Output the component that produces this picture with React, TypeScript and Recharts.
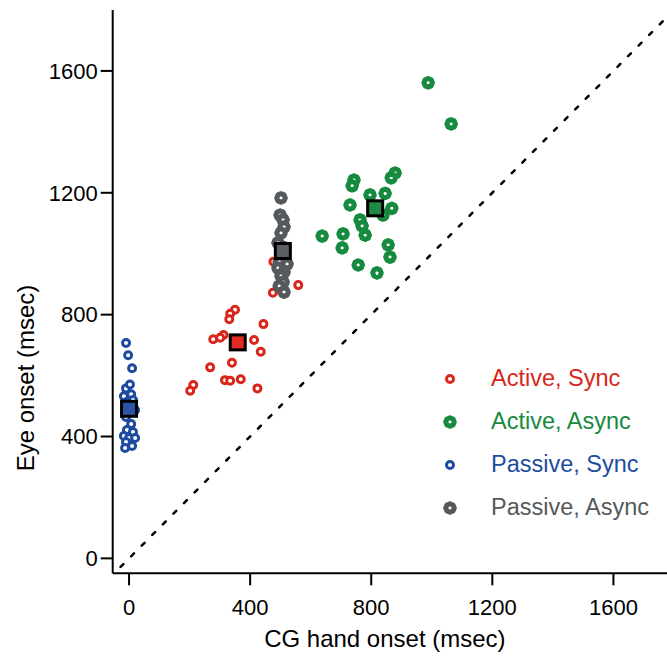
import React from 'react';
import {
  ScatterChart,
  Scatter,
  XAxis,
  YAxis,
  ReferenceLine,
  Legend,
} from 'recharts';

// Onset times (msec)
const activeSync = [
  { x: 350, y: 816 }, { x: 334, y: 803 }, { x: 331, y: 785 }, { x: 444, y: 769 },
  { x: 312, y: 733 }, { x: 301, y: 724 }, { x: 278, y: 719 }, { x: 413, y: 717 },
  { x: 435, y: 678 }, { x: 340, y: 642 }, { x: 268, y: 627 }, { x: 317, y: 585 },
  { x: 334, y: 583 }, { x: 369, y: 588 }, { x: 212, y: 569 }, { x: 202, y: 550 },
  { x: 424, y: 558 }, { x: 477, y: 974 }, { x: 559, y: 897 }, { x: 475, y: 872 },
];

const activeAsync = [
  { x: 988, y: 1561 }, { x: 1064, y: 1426 }, { x: 879, y: 1265 }, { x: 866, y: 1249 },
  { x: 743, y: 1242 }, { x: 737, y: 1223 }, { x: 796, y: 1193 }, { x: 846, y: 1198 },
  { x: 730, y: 1160 }, { x: 868, y: 1149 }, { x: 839, y: 1127 }, { x: 763, y: 1111 },
  { x: 770, y: 1091 }, { x: 780, y: 1061 }, { x: 638, y: 1058 }, { x: 707, y: 1065 },
  { x: 704, y: 1019 }, { x: 856, y: 1029 }, { x: 862, y: 989 }, { x: 757, y: 963 },
  { x: 819, y: 937 },
];

const passiveSync = [
  { x: -10, y: 707 }, { x: -3, y: 667 }, { x: 10, y: 624 }, { x: -10, y: 558 },
  { x: 3, y: 571 }, { x: -17, y: 532 }, { x: 7, y: 539 }, { x: -7, y: 513 },
  { x: 13, y: 520 }, { x: 20, y: 487 }, { x: -10, y: 464 }, { x: 7, y: 441 },
  { x: -7, y: 421 }, { x: 13, y: 415 }, { x: -17, y: 402 }, { x: 0, y: 395 },
  { x: 20, y: 395 }, { x: -10, y: 382 }, { x: 10, y: 369 }, { x: -13, y: 362 },
];

const passiveAsync = [
  { x: 502, y: 1183 }, { x: 499, y: 1127 }, { x: 509, y: 1111 }, { x: 512, y: 1088 },
  { x: 502, y: 1068 }, { x: 492, y: 1036 }, { x: 515, y: 1019 }, { x: 505, y: 993 },
  { x: 496, y: 973 }, { x: 522, y: 966 }, { x: 492, y: 953 }, { x: 512, y: 940 },
  { x: 502, y: 927 }, { x: 509, y: 907 }, { x: 496, y: 894 }, { x: 512, y: 874 },
];

// group means (big squares)
const meanActiveSync = [{ x: 359, y: 709 }];
const meanActiveAsync = [{ x: 813, y: 1149 }];
const meanPassiveSync = [{ x: 0, y: 491 }];
const meanPassiveAsync = [{ x: 508, y: 1009 }];

const xTicks = [0, 400, 800, 1200, 1600];
const yTicks = [0, 400, 800, 1200, 1600];
const unityLine = [{ x: -28, y: -28 }, { x: 1800, y: 1800 }];

const RED = '#d9261c';
const GREEN = '#168a3e';
const BLUE = '#1e4ba0';
const GRAY = '#55595c';

const FONT = '"Liberation Sans", Arial, Helvetica, sans-serif';

const legendItems = [
  { name: 'Active, Sync', color: RED, kind: 'ring' },
  { name: 'Active, Async', color: GREEN, kind: 'oct' },
  { name: 'Passive, Sync', color: BLUE, kind: 'ring' },
  { name: 'Passive, Async', color: GRAY, kind: 'oct' },
];

const octPoints = (cx: number, cy: number, r: number) => {
  const pts: string[] = [];
  for (let i = 0; i < 8; i++) {
    const a = (Math.PI / 4) * i;
    pts.push(`${cx + r * Math.cos(a)},${cy + r * Math.sin(a)}`);
  }
  return pts.join(' ');
};

const Ring = ({ cx, cy, color }: any) => (
  <circle cx={cx} cy={cy} r={3.5} fill="#fff" stroke={color} strokeWidth={3} />
);

const Oct = ({ cx, cy, color }: any) => (
  <polygon
    points={octPoints(cx, cy, 4.3)}
    fill="#fff"
    stroke={color}
    strokeWidth={5}
    strokeLinejoin="round"
  />
);

const ringShape = (color: string) => (props: any) => <Ring {...props} color={color} />;
const octShape = (color: string) => (props: any) => <Oct {...props} color={color} />;

const meanShape = (color: string) => (props: any) => (
  <rect
    x={props.cx - 7.5}
    y={props.cy - 7.5}
    width={15}
    height={15}
    fill={color}
    stroke="#000"
    strokeWidth={3}
  />
);

const renderLegend = () => (
  <div style={{ fontFamily: FONT }}>
    {legendItems.map((item) => (
      <div
        key={item.name}
        style={{ display: 'flex', alignItems: 'center', height: 43 }}
      >
        <svg width={20} height={20} style={{ marginRight: 31 }}>
          {item.kind === 'ring' ? (
            <Ring cx={10} cy={10} color={item.color} />
          ) : (
            <Oct cx={10} cy={10} color={item.color} />
          )}
        </svg>
        <span style={{ color: item.color, fontSize: 23.5, lineHeight: '43px' }}>
          {item.name}
        </span>
      </div>
    ))}
  </div>
);

const App = () => {
  const axisLine = { stroke: '#000', strokeWidth: 2 };
  const tickStyle = { fill: '#000', fontSize: 22, fontFamily: FONT };

  return (
    <div style={{ position: 'absolute', left: 0, top: 0, background: '#fff' }}>
      <ScatterChart
        width={667}
        height={665}
        margin={{ top: 10, right: 0, bottom: 31.7, left: 52.7 }}
      >
        <XAxis
          type="number"
          dataKey="x"
          domain={[-54, 1777]}
          ticks={xTicks}
          allowDataOverflow
          height={60}
          axisLine={axisLine}
          tickLine={axisLine}
          tickSize={12}
          tickMargin={14}
          tick={tickStyle}
          label={{
            content: (p: any) => (
              <text
                x={p.viewBox.x + p.viewBox.width / 2 - 5}
                y={p.viewBox.y + 73.5}
                textAnchor="middle"
                fontSize={24}
                fontFamily={FONT}
                fill="#000"
              >
                CG hand onset (msec)
              </text>
            ),
          }}
        />
        <YAxis
          type="number"
          dataKey="y"
          domain={[-49, 1800]}
          ticks={yTicks}
          allowDataOverflow
          width={60}
          axisLine={axisLine}
          tickLine={axisLine}
          tickSize={12}
          tickMargin={3}
          tick={tickStyle}
          label={{
            content: () => (
              <text
                x={34}
                y={378}
                transform="rotate(-90 34 378)"
                textAnchor="middle"
                fontSize={24}
                fontFamily={FONT}
                fill="#000"
              >
                Eye onset (msec)
              </text>
            ),
          }}
        />
        <ReferenceLine
          segment={unityLine}
          ifOverflow="hidden"
          stroke="#000"
          strokeWidth={2.5}
          strokeDasharray="4 11"
          strokeLinecap="round"
        />
        <Scatter name="Active, Sync" data={activeSync} shape={ringShape(RED)} isAnimationActive={false} />
        <Scatter name="Passive, Sync" data={passiveSync} shape={ringShape(BLUE)} isAnimationActive={false} />
        <Scatter name="Active, Async" data={activeAsync} shape={octShape(GREEN)} isAnimationActive={false} />
        <Scatter name="Passive, Async" data={passiveAsync} shape={octShape(GRAY)} isAnimationActive={false} />
        <Scatter data={meanActiveSync} shape={meanShape('#e12a22')} isAnimationActive={false} legendType="none" />
        <Scatter data={meanActiveAsync} shape={meanShape('#1e8a45')} isAnimationActive={false} legendType="none" />
        <Scatter data={meanPassiveSync} shape={meanShape('#2a55a8')} isAnimationActive={false} legendType="none" />
        <Scatter data={meanPassiveAsync} shape={meanShape('#5c6064')} isAnimationActive={false} legendType="none" />
        <Legend
          layout="vertical"
          align="center"
          verticalAlign="middle"
          content={renderLegend}
          wrapperStyle={{ position: 'absolute', left: 440, top: 357, width: 227 }}
        />
      </ScatterChart>
    </div>
  );
};

export default App;
